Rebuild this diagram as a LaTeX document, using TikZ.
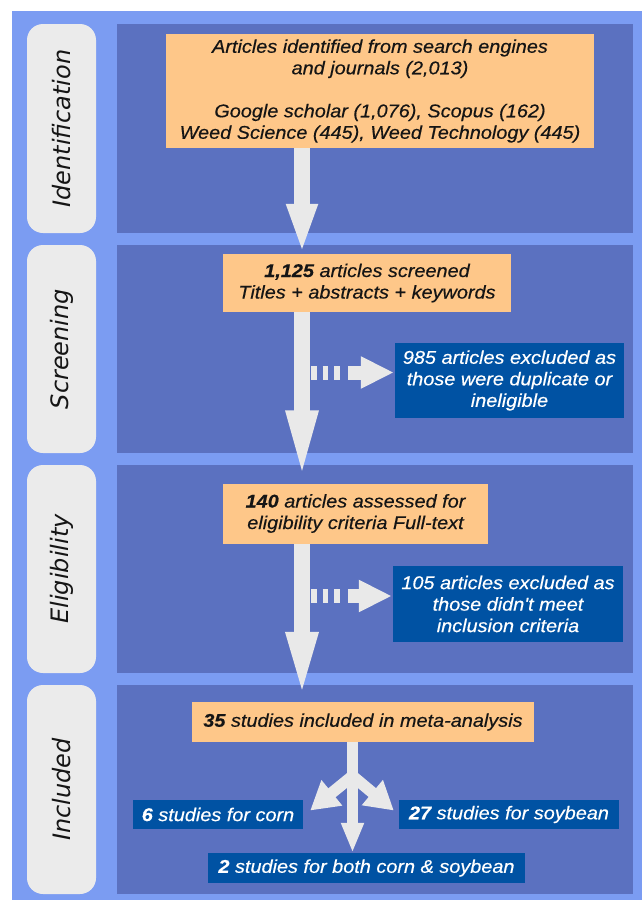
\documentclass[tikz,border=0pt]{standalone}
\usepackage{fontspec}
\usetikzlibrary{arrows.meta,calc}
\newfontfamily\boxfont{Liberation Sans}[FakeStretch=1.08,FakeBold=0.4]
\newfontfamily\pillfont{DejaVu Sans}
\definecolor{outerblue}{HTML}{7B9CF2}
\definecolor{panelblue}{HTML}{5B71C0}
\definecolor{orangebox}{HTML}{FEC789}
\definecolor{darkbox}{HTML}{0052A3}
\definecolor{pillgray}{HTML}{EBEBEB}
\definecolor{arrowgray}{HTML}{E9E9E9}
\definecolor{inktext}{HTML}{151515}
\tikzset{
  panel/.style={fill=panelblue, draw=none},
  pill/.style={fill=pillgray, draw=none, rounded corners=16pt, rotate=90, inner sep=0pt,
    font=\pillfont\itshape\fontsize{24}{28}\selectfont, text=inktext},
  obox/.style={fill=orangebox, draw=none, inner sep=0pt, align=center, text=inktext,
    font=\boxfont\itshape\fontsize{18.4}{21.5}\selectfont},
  bbox/.style={fill=darkbox, draw=none, inner sep=0pt, align=center, text=white,
    font=\boxfont\itshape\fontsize{18.4}{21.5}\selectfont},
  bigarrow/.style={draw=arrowgray, line width=15.5pt},
  dashline/.style={draw=arrowgray, line width=14pt, dash pattern=on 5.5pt off 6pt},
  smallarrow/.style={draw=arrowgray, line width=14pt, -{Triangle[width=30pt,length=33pt]}},
  branch/.style={draw=arrowgray, line width=11.5pt},
}
\begin{document}
\begin{tikzpicture}[x=1pt,y=-1pt]
\useasboundingbox (0,0) rectangle (642,900);
\fill[white] (0,0) rectangle (642,900);
\fill[outerblue] (12,11) rectangle (642,900);
% panels
\fill[panel] (117,24) rectangle (633,233);
\fill[panel] (117,245) rectangle (633,453);
\fill[panel] (117,465) rectangle (633,673);
\fill[panel] (117,685) rectangle (633,894);
% side labels
\node[pill, minimum width=209pt, minimum height=69pt] (p1) at (61.5,128.5) {Identification};
\node[pill, minimum width=208pt, minimum height=69pt] (p2) at (61.5,349) {Screening};
\node[pill, minimum width=208pt, minimum height=69pt] (p3) at (61.5,569) {Eligibility};
\node[pill, minimum width=209pt, minimum height=69pt] (p4) at (61.5,789.5) {Included};
% orange boxes
\node[obox, minimum width=428pt, minimum height=114pt] (o1) at (380,91)
  {Articles identified from search engines\\and journals (2,013)\\[21.5pt]Google scholar (1,076), Scopus (162)\\Weed Science (445), Weed Technology (445)};
\node[obox, minimum width=288pt, minimum height=58pt] (o2) at (367,283)
  {{\bfseries 1,125} articles screened\\Titles + abstracts + keywords};
\node[obox, minimum width=265pt, minimum height=60pt] (o3) at (355.5,513.5)
  {{\bfseries 140} articles assessed for\\eligibility criteria Full-text};
\node[obox, minimum width=342pt, minimum height=40pt] (o4) at (363,722)
  {{\bfseries 35} studies included in meta-analysis};
% dark boxes
\node[bbox, minimum width=229pt, minimum height=75pt] (b1) at (509.5,380.5)
  {985 articles excluded as\\those were duplicate or\\ineligible};
\node[bbox, minimum width=230pt, minimum height=76pt] (b2) at (508,604)
  {105 articles excluded as\\those didn't meet\\inclusion criteria};
\node[bbox, minimum width=170pt, minimum height=29pt] (b3) at (218,814.5)
  {{\bfseries 6} studies for corn};
\node[bbox, minimum width=220pt, minimum height=29pt] (b4) at (509,814.5)
  {{\bfseries 27} studies for soybean};
\node[bbox, minimum width=317pt, minimum height=30pt] (b5) at (366.5,868)
  {{\bfseries 2} studies for both corn \& soybean};
% main arrows
\coordinate (ax) at (302,0);
\draw[bigarrow, -{Triangle[width=28pt,length=50pt]}] (o1.south -| ax) -- (o2.north -| ax);
\draw[bigarrow, -{Triangle[width=28pt,length=73pt]}] (o2.south -| ax) -- (o3.north -| ax);
\draw[bigarrow, -{Triangle[width=28pt,length=70pt]}] (o3.south -| ax) -- (o4.north -| ax);
% dotted side arrows
\draw[dashline] ($(b1.west -| ax)+(9,-8)$) -- ($(b1.west -| ax)+(41,-8)$);
\draw[smallarrow] ($(b1.west -| ax)+(46,-8)$) -- ($(b1.west)+(-1,-8)$);
\draw[dashline] ($(b2.west -| ax)+(9,-8)$) -- ($(b2.west -| ax)+(41,-8)$);
\draw[smallarrow] ($(b2.west -| ax)+(46,-8)$) -- ($(b2.west)+(-1,-8)$);
% branching arrows
\coordinate (jn) at (352.5,776);
\draw[branch, -{Triangle[width=21pt,length=30pt]}] (o4.south -| jn) -- (b5.north -| jn);
\draw[branch, -{Triangle[width=31pt,length=28pt]}] (jn) -- ($(b3.east)+(7,-4)$);
\draw[branch, -{Triangle[width=31pt,length=28pt]}] (jn) -- ($(b4.west)+(-5,-4)$);
\end{tikzpicture}
\end{document}
